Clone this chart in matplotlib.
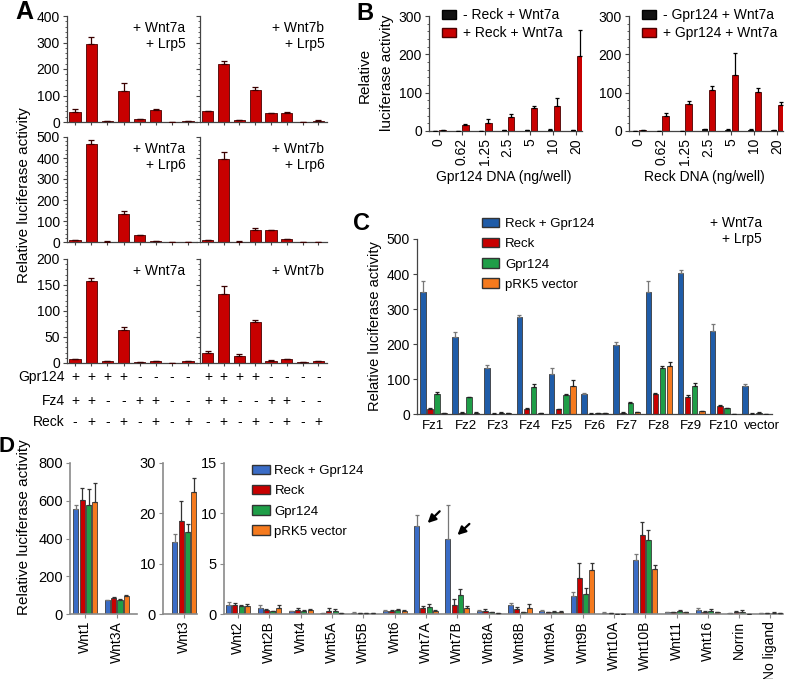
import numpy as np
import matplotlib
matplotlib.use("Agg")
import matplotlib.pyplot as plt
from matplotlib.transforms import blended_transform_factory
from matplotlib.ticker import MultipleLocator, AutoMinorLocator
from matplotlib.patches import Patch

plt.rcParams['font.family'] = ['Liberation Sans', 'DejaVu Sans']

# ---------------- data ----------------
# panel A: 8 conditions per sub-panel
a_gpr124 = ['+', '+', '+', '+', '-', '-', '-', '-']
a_fz4 = ['+', '+', '-', '-', '+', '+', '-', '-']
a_reck = ['-', '+', '-', '+', '-', '+', '-', '+']
a_wnt7a_lrp5 = [38, 294, 3, 118, 10, 45, 0.5, 3]
a_wnt7a_lrp5_err = [10, 27, 1, 30, 2, 3, 0.3, 1]
a_wnt7b_lrp5 = [40, 220, 7, 120, 33, 35, 1, 5]
a_wnt7b_lrp5_err = [3, 10, 1, 12, 2, 3, 0.5, 1]
a_wnt7a_lrp6 = [8, 465, 2, 135, 32, 5, 0.5, 1]
a_wnt7a_lrp6_err = [1, 20, 1, 15, 3, 1, 0.3, 0.5]
a_wnt7b_lrp6 = [10, 397, 2, 57, 55, 13, 0.5, 0.5]
a_wnt7b_lrp6_err = [1, 30, 0.5, 10, 2, 2, 0.3, 0.3]
a_wnt7a = [7, 158, 3, 63, 1, 4, 0.5, 3]
a_wnt7a_err = [0.5, 6, 0.5, 7, 0.5, 0.5, 0.3, 0.5]
a_wnt7b = [20, 133, 13, 78, 4, 7, 2, 3]
a_wnt7b_err = [3, 15, 5, 5, 1, 1, 0.5, 0.5]

# panel B: DNA titrations
b_doses = ['0', '0.62', '1.25', '2.5', '5', '10', '20']
b_noreck = [1, 1, 0.5, 1.5, 2.5, 3, 2]
b_noreck_err = [0.3, 0.3, 0.3, 0.5, 0.8, 1, 0.5]
b_reck = [2, 15, 21, 37, 60, 65, 196]
b_reck_err = [0.5, 2, 11, 8, 5, 22, 68]
b_nogpr = [1, 1, 1, 4, 3, 3, 2]
b_nogpr_err = [0.3, 0.3, 0.3, 2, 1, 1, 0.5]
b_gpr = [2, 38, 71, 107, 147, 103, 69]
b_gpr_err = [0.5, 8, 6, 11, 57, 9, 6]

# panel C: frizzleds
c_labels = ['Fz1', 'Fz2', 'Fz3', 'Fz4', 'Fz5', 'Fz6', 'Fz7', 'Fz8', 'Fz9', 'Fz10', 'vector']
c_both = [350, 221, 131, 276, 114, 58, 198, 350, 403, 236, 79]
c_both_err = [29, 14, 8, 8, 17, 1, 7, 30, 8, 20, 6]
c_reck = [14, 4, 1, 15, 13, 1, 4, 56, 50, 24, 1]
c_reck_err = [2, 1, 0.5, 2, 2, 0.5, 1, 3, 3, 2, 0.5]
c_gpr = [57, 48, 4, 77, 55, 3, 32, 132, 80, 16, 4]
c_gpr_err = [5, 2, 1, 10, 3, 1, 3, 5, 9, 1, 1]
c_vec = [3, 4, 2, 3, 81, 2, 6, 137, 9, 1, 0]
c_vec_err = [0.5, 0.5, 0.5, 0.5, 15, 0.5, 1, 13, 1, 0.3, 0]

# panel D: Wnt ligands
d1_labels = ['Wnt1', 'Wnt3A']
d1_both = [554, 73]
d1_both_err = [26, 3]
d1_reck = [602, 85]
d1_reck_err = [65, 3]
d1_gpr = [580, 76]
d1_gpr_err = [80, 5]
d1_vec = [594, 96]
d1_vec_err = [98, 4]

d2_labels = ['Wnt3']
d2_both = [14.3]
d2_both_err = [1.65]
d2_reck = [18.5]
d2_reck_err = [4.0]
d2_gpr = [16.3]
d2_gpr_err = [1.6]
d2_vec = [24.2]
d2_vec_err = [2.8]

d3_labels = ['Wnt2', 'Wnt2B', 'Wnt4', 'Wnt5A', 'Wnt5B', 'Wnt6', 'Wnt7A', 'Wnt7B', 'Wnt8A',
             'Wnt8B', 'Wnt9A', 'Wnt9B', 'Wnt10A', 'Wnt10B', 'Wnt11', 'Wnt16', 'Norrin', 'No ligand']
d3_both = [0.85, 0.55, 0.25, 0.05, 0.1, 0.3, 8.7, 7.5, 0.3, 0.85, 0.25, 1.75, 0.1, 5.4, 0.15, 0.35, 0.05, 0.05]
d3_both_err = [0.3, 0.3, 0.05, 0.05, 0.05, 0.1, 1.1, 3.3, 0.1, 0.25, 0.1, 0.4, 0.05, 0.6, 0.05, 0.25, 0.05, 0.05]
d3_reck = [0.85, 0.4, 0.4, 0.3, 0.05, 0.3, 0.6, 0.85, 0.3, 0.45, 0.15, 3.6, 0.05, 7.8, 0.15, 0.2, 0.2, 0.05]
d3_reck_err = [0.2, 0.05, 0.15, 0.25, 0.02, 0.1, 0.2, 0.6, 0.2, 0.2, 0.05, 1.45, 0.02, 1.3, 0.05, 0.1, 0.1, 0.02]
d3_gpr = [0.8, 0.25, 0.3, 0.3, 0.1, 0.35, 0.65, 1.85, 0.15, 0.15, 0.2, 2.0, 0.02, 7.35, 0.25, 0.3, 0.2, 0.1]
d3_gpr_err = [0.1, 0.05, 0.1, 0.15, 0.02, 0.1, 0.3, 0.6, 0.05, 0.05, 0.1, 0.55, 0.02, 1.0, 0.15, 0.15, 0.15, 0.05]
d3_vec = [0.8, 0.55, 0.35, 0.05, 0.05, 0.3, 0.3, 0.6, 0.05, 0.6, 0.2, 4.4, 0.02, 4.47, 0.15, 0.15, 0.02, 0.05]
d3_vec_err = [0.2, 0.3, 0.1, 0.02, 0.02, 0.05, 0.1, 0.2, 0.02, 0.4, 0.1, 0.7, 0.02, 0.4, 0.05, 0.05, 0.02, 0.02]

legend_names = ['Reck + Gpr124', 'Reck', 'Gpr124', 'pRK5 vector']

# ---------------- style ----------------
RED = '#c80000'
BLUE_C = '#1f5ca8'
BLUE_D = '#3a6cc6'
GREEN = '#1f9e48'
ORANGE = '#f57a1e'
W, H = 785, 679
fig = plt.figure(figsize=(W / 100, H / 100), dpi=100)


def box(x0, y0, x1, y1):
    return fig.add_axes([x0 / W, 1 - y1 / H, (x1 - x0) / W, (y1 - y0) / H])


def style(ax, fs, col='#444444', lw=0.9):
    for s in ('top', 'right'):
        ax.spines[s].set_visible(False)
    for s in ('left', 'bottom'):
        ax.spines[s].set_color(col)
        ax.spines[s].set_linewidth(lw)
    ax.tick_params(labelsize=fs, length=3, width=0.8, color=col, pad=2)
    ax.tick_params(which='minor', length=1.5, width=0.6, color=col)


def bars(ax, x, v, e, w, fc, ec='#333333', errc='#222222', cs=2.0):
    ax.bar(x, v, w, color=fc, edgecolor=ec, linewidth=0.6, zorder=2)
    ax.errorbar(x, v, yerr=[np.zeros(len(v)), e], fmt='none', ecolor=errc,
                elinewidth=0.9, capsize=cs, capthick=0.9, zorder=3)


def ftext(xp, yp, s, **kw):
    fig.text(xp / W, 1 - yp / H, s, **kw)


# ---------------- panel A ----------------
a_cols = [(67, 197), (200, 327)]
a_rows = [(16, 122), (137, 242), (259, 363)]
a_data = [[(a_wnt7a_lrp5, a_wnt7a_lrp5_err, '+ Wnt7a\n+ Lrp5'), (a_wnt7b_lrp5, a_wnt7b_lrp5_err, '+ Wnt7b\n+ Lrp5')],
          [(a_wnt7a_lrp6, a_wnt7a_lrp6_err, '+ Wnt7a\n+ Lrp6'), (a_wnt7b_lrp6, a_wnt7b_lrp6_err, '+ Wnt7b\n+ Lrp6')],
          [(a_wnt7a, a_wnt7a_err, '+ Wnt7a'), (a_wnt7b, a_wnt7b_err, '+ Wnt7b')]]
a_ymax = [400, 500, 200]
a_step = [100, 100, 50]
xa = np.arange(8)
for r, (y0, y1) in enumerate(a_rows):
    for c, (x0, x1) in enumerate(a_cols):
        ax = box(x0, y0, x1, y1)
        vals, err, note = a_data[r][c]
        bars(ax, xa, vals, err, 0.7, RED, ec='#4a0000', errc='#3a0000', cs=2.5)
        ax.set_xlim(-0.5, 7.55)
        ax.set_ylim(0, a_ymax[r])
        ax.set_xticks(xa)
        ax.set_xticklabels([])
        ax.yaxis.set_major_locator(MultipleLocator(a_step[r]))
        ax.yaxis.set_minor_locator(AutoMinorLocator(5))
        style(ax, 10)
        ax.tick_params(axis='x', length=2.5)
        if c == 1:
            ax.set_yticklabels([])
        tx = 0.91 if c == 0 else 0.98
        ax.text(tx, 0.95, note, transform=ax.transAxes, ha='right', va='top',
                fontsize=10, linespacing=1.15)
        if r == 2:
            tr = blended_transform_factory(ax.transData, fig.transFigure)
            for row, yp in ((a_gpr124, 377), (a_fz4, 401), (a_reck, 422)):
                for i, s in enumerate(row):
                    ax.text(i, 1 - yp / H, s, transform=tr, ha='center', va='center', fontsize=10)
for name, yp in (('Gpr124', 377), ('Fz4', 401), ('Reck', 422)):
    ftext(65, yp, name, ha='right', va='center', fontsize=10)
ftext(24, 195, 'Relative luciferase activity', rotation=90, ha='center', va='center', fontsize=11)
ftext(24, 12, 'A', ha='center', va='center', fontsize=18, weight='bold')

# ---------------- panel B ----------------
xb = np.arange(len(b_doses))
b_sets = [((429, 582), b_noreck, b_noreck_err, b_reck, b_reck_err,
           ['- Reck + Wnt7a', '+ Reck + Wnt7a'], 'Gpr124 DNA (ng/well)', 442),
          ((629, 783), b_nogpr, b_nogpr_err, b_gpr, b_gpr_err,
           ['- Gpr124 + Wnt7a', '+ Gpr124 + Wnt7a'], 'Reck DNA (ng/well)', 642)]
for (x0, x1), v0, e0, v1, e1, labs, xl, lx in b_sets:
    ax = box(x0, 16, x1, 131)
    bars(ax, xb - 0.15, v0, e0, 0.2, '#111111', ec='#000000', errc='#000000', cs=1.5)
    bars(ax, xb + 0.16, v1, e1, 0.28, RED, ec='#4a0000', errc='#000000', cs=1.5)
    ax.set_xlim(-0.43, 6.25)
    ax.set_ylim(0, 300)
    ax.yaxis.set_major_locator(MultipleLocator(100))
    ax.yaxis.set_minor_locator(AutoMinorLocator(5))
    ax.set_xticks(xb)
    ax.set_xticklabels(b_doses, rotation=90)
    style(ax, 10)
    ftext((x0 + x1) / 2 - 2, 177, xl, ha='center', va='center', fontsize=10)
    hs = [Patch(facecolor='#111111', edgecolor='#000000'), Patch(facecolor=RED, edgecolor='#4a0000')]
    ax.legend(hs, labs, loc='upper left', bbox_to_anchor=(lx / W, 1 - 8 / H),
              bbox_transform=fig.transFigure, frameon=False, fontsize=10,
              borderpad=0, borderaxespad=0, handlelength=1.0, handleheight=0.6,
              handletextpad=0.5, labelspacing=0.3)
ftext(365, 75, 'Relative', rotation=90, ha='center', va='center', fontsize=11)
ftext(387, 73, 'luciferase activity', rotation=90, ha='center', va='center', fontsize=11)
ftext(365, 13, 'B', ha='center', va='center', fontsize=17, weight='bold')

# ---------------- panel C ----------------
xc = np.arange(len(c_labels))
ax = box(417, 239, 772, 414)
offs = [-0.33, -0.11, 0.11, 0.33]
cols = [BLUE_C, RED, GREEN, ORANGE]
errcs = ['#777777', '#222222', '#222222', '#222222']
for o, fc, ec2, v, e in zip(offs, cols, errcs, [c_both, c_reck, c_gpr, c_vec],
                            [c_both_err, c_reck_err, c_gpr_err, c_vec_err]):
    bars(ax, xc + o, v, e, 0.17, fc, ec='#3a3a3a', errc=ec2, cs=1.3)
ax.set_xlim(-0.51, 10.51)
ax.set_ylim(0, 500)
ax.yaxis.set_major_locator(MultipleLocator(100))
# last label sits a little right of its group, as in the original
c_tickpos = list(xc[:-1]) + [10.2]
ax.set_xticks(c_tickpos)
ax.set_xticklabels(c_labels)
style(ax, 10)
ax.tick_params(axis='x', length=0, pad=4, labelsize=9.5)
hs = [Patch(facecolor=fc, edgecolor='#333333') for fc in cols]
ax.legend(hs, legend_names, loc='upper left', bbox_to_anchor=(482 / W, 1 - 218 / H),
          bbox_transform=fig.transFigure, frameon=False, fontsize=9.5,
          borderpad=0, borderaxespad=0, handlelength=1.3, handleheight=0.7,
          handletextpad=0.45, labelspacing=0.6)
ftext(762, 216, '+ Wnt7a\n+ Lrp5', ha='right', va='top', fontsize=10, linespacing=1.15)
ftext(375, 326, 'Relative luciferase activity', rotation=90, ha='center', va='center', fontsize=10.5)
ftext(361, 224, 'C', ha='center', va='center', fontsize=17, weight='bold')

# ---------------- panel D ----------------
offs_d = [-0.3, -0.1, 0.1, 0.3]
cols_d = [BLUE_D, RED, GREEN, ORANGE]
errcs_d = ['#777777', '#333333', '#333333', '#333333']
d_sets = [((70, 137), (-0.49, 1.64), d1_labels, [d1_both, d1_reck, d1_gpr, d1_vec],
           [d1_both_err, d1_reck_err, d1_gpr_err, d1_vec_err], 800, 200),
          ((163, 197), (-0.68, 0.4), d2_labels, [d2_both, d2_reck, d2_gpr, d2_vec],
           [d2_both_err, d2_reck_err, d2_gpr_err, d2_vec_err], 30, 10),
          ((224, 783), (-0.45, 17.4), d3_labels, [d3_both, d3_reck, d3_gpr, d3_vec],
           [d3_both_err, d3_reck_err, d3_gpr_err, d3_vec_err], 15, 5)]
for (x0, x1), xlim, labs, vs, es, ymax, step in d_sets:
    ax = box(x0, 463, x1, 614)
    xd = np.arange(len(labs))
    for o, fc, ec2, v, e in zip(offs_d, cols_d, errcs_d, vs, es):
        bars(ax, xd + o, v, e, 0.16, fc, ec='#3a3a3a', errc=ec2, cs=1.3)
    ax.set_xlim(*xlim)
    ax.set_ylim(0, ymax)
    ax.yaxis.set_major_locator(MultipleLocator(step))
    ax.set_xticks(xd)
    ax.set_xticklabels(labs, rotation=90)
    style(ax, 10.5, col='#8a8a8a', lw=1.2)
    ax.tick_params(axis='x', labelsize=10)
ax3 = ax
for (hx, hy), (tx, ty) in (((5.99, 8.84), (6.5, 10.4)), ((6.94, 7.65), (7.45, 9.14))):
    ax3.annotate('', xy=(hx, hy), xytext=(tx, ty), xycoords='data',
                 arrowprops=dict(arrowstyle='-|>', color='black', lw=1.6, mutation_scale=12))
hs = [Patch(facecolor=fc, edgecolor='#333333') for fc in cols_d]
ax3.legend(hs, legend_names, loc='upper left', bbox_to_anchor=(252 / W, 1 - 465 / H),
           bbox_transform=fig.transFigure, frameon=False, fontsize=9.5,
           borderpad=0, borderaxespad=0, handlelength=1.4, handleheight=0.7,
           handletextpad=0.3, labelspacing=0.6)
ftext(24, 527, 'Relative luciferase activity', rotation=90, ha='center', va='center', fontsize=11)
ftext(7, 446, 'D', ha='center', va='center', fontsize=16, weight='bold')

fig.savefig('out.png', dpi=100)
